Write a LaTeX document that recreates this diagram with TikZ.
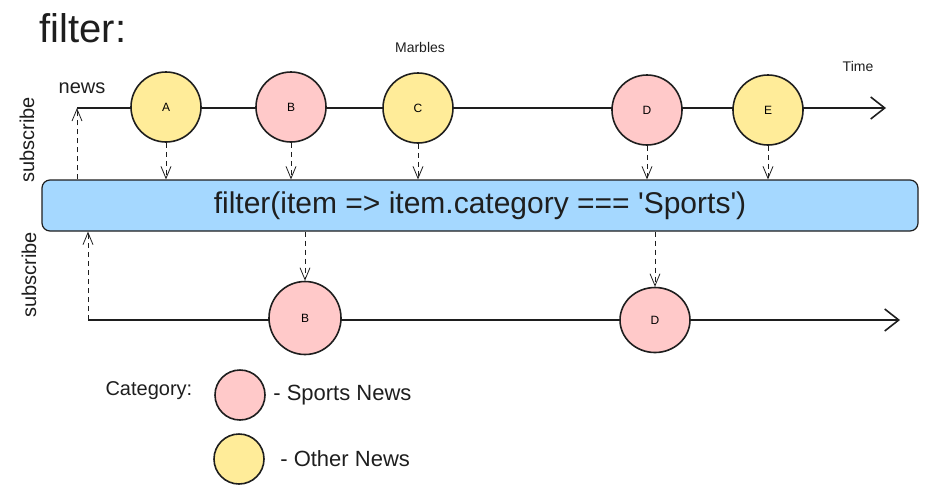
\documentclass[tikz,border=0pt]{standalone}
\usepackage{fontspec}
\setmainfont{Liberation Sans}
\usetikzlibrary{arrows.meta,shapes.geometric,positioning}
\definecolor{sportpink}{HTML}{FFC9C9}
\definecolor{otheryellow}{HTML}{FFEC99}
\definecolor{opblue}{HTML}{A5D8FF}
\definecolor{ink}{HTML}{1E1E1E}
\tikzset{
  marble/.style={circle,draw=ink,line width=1.6pt,minimum size=70pt,inner sep=0pt,font=\fontsize{12}{14}\selectfont},
  sports/.style={marble,fill=sportpink},
  other/.style={marble,fill=otheryellow},
  timeline/.style={draw=ink,line width=1.6pt,-{Straight Barb[length=14pt,width=22pt,line width=1.6pt]}},
  emit/.style={draw=ink,line width=0.8pt,dash pattern=on 5pt off 4pt,-{Straight Barb[length=12pt,width=10pt,line width=0.8pt]}},
  lbl/.style={font=\fontsize{20}{22}\selectfont,text=ink},
}

\begin{document}
\begin{tikzpicture}[x=1pt,y=-1pt]
\useasboundingbox (0,0) rectangle (928,491);

% headings
\node[anchor=west,font=\fontsize{40}{44}\selectfont,text=ink] (title) at (36,28) {filter:};
\node[font=\fontsize{14}{16}\selectfont,text=ink] (marbles) at (420,47) {Marbles};
\node[font=\fontsize{14}{16}\selectfont,text=ink] (time) at (858,66) {Time};
\node[lbl] (news) at (82,88) {news};
\node[lbl,rotate=90] (sub1) at (27,140) {subscribe};
\node[lbl,rotate=90] (sub2) at (29,275) {subscribe};

% source stream
\coordinate (src0) at (77,108);
\coordinate (src1) at (886,108);
\draw[timeline] (src0) -- (src1);
\node[other]  (a) at (166,107) {A};
\node[sports] (b) at (291,107) {B};
\node[other]  (c) at (418,108) {C};
\node[sports] (d) at (647,110) {D};
\node[other]  (e) at (768,110) {E};

% operator
\node[draw=ink,line width=1.2pt,rounded corners=8pt,fill=opblue,minimum width=876pt,minimum height=51pt,
      font=\fontsize{30}{32}\selectfont,text=ink] (op) at (480,205.5)
      {filter(item => item.category === \textquotesingle Sports\textquotesingle)};

\foreach \m in {a,b,c,d,e}
  \draw[emit] (\m.south) -- (\m.south |- op.north);
\draw[emit] (src0 |- op.north) -- (src0);

% result stream
\coordinate (out0) at (88,320);
\coordinate (out1) at (900,320);
\draw[timeline] (out0) -- (out1);
\node[sports,ellipse,minimum width=72pt,minimum height=73pt] (b2) at (305,318) {B};
\node[sports,ellipse,minimum width=70pt,minimum height=65pt] (d2) at (655,320) {D};
\draw[emit] (out0) -- (out0 |- op.south);
\draw[emit] (op.south -| b2) -- (b2.north);
\draw[emit] (op.south -| d2) -- (d2.north);

% legend
\node[lbl,anchor=west] (cat) at (102,391) {Category:};
\node[sports,minimum size=50pt] (lsport) at (240,395) {};
\node[other,minimum size=50pt] (lother) at (239,459) {};
\node[lbl,font=\fontsize{22}{24}\selectfont,right=4pt of lsport] (tsport) {- Sports News};
\node[lbl,font=\fontsize{22}{24}\selectfont,right=12pt of lother] (tother) {- Other News};
\end{tikzpicture}
\end{document}
